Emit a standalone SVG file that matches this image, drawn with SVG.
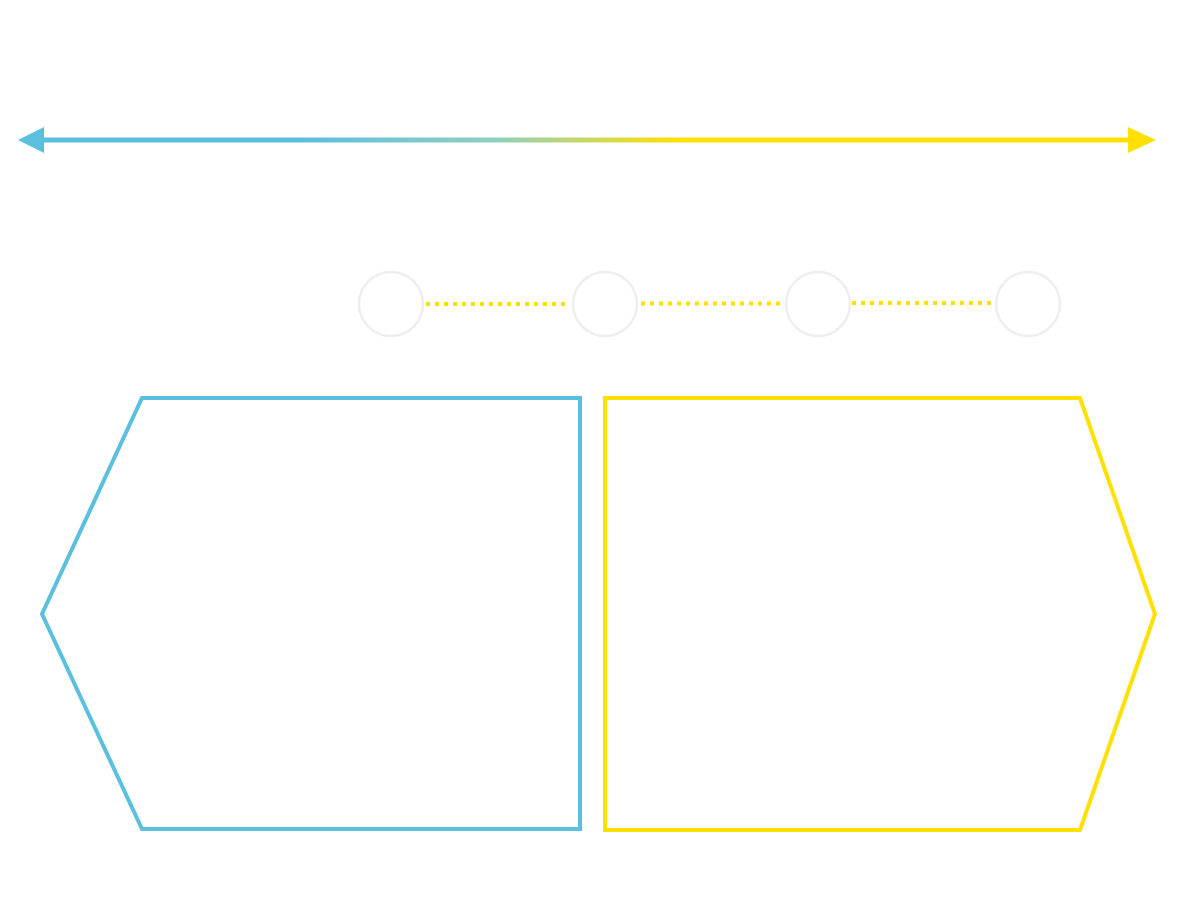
<svg xmlns="http://www.w3.org/2000/svg" width="1200" height="899" viewBox="0 0 1200 899">
<style>
.node{fill:#fff;stroke:#eeeeee;stroke-width:2.5}
.dot{stroke:#FFE000;stroke-width:4;stroke-dasharray:4 5;fill:none}
.shape{fill:none;stroke-width:4;stroke-linejoin:miter}
</style>
<defs>
<linearGradient id="g" gradientUnits="userSpaceOnUse" x1="18" y1="0" x2="1155" y2="0">
<stop offset="0.25" stop-color="#5BBFDE"/>
<stop offset="0.42" stop-color="#8FCFC0"/>
<stop offset="0.58" stop-color="#FFE000"/>
</linearGradient>
</defs>
<rect width="1200" height="899" fill="#fff"/>
<g id="connectors">
<line x1="40" y1="140" x2="1132" y2="140" stroke="url(#g)" stroke-width="5"/>
<polygon points="18,140 44,127 44,153" fill="#5BBFDE"/>
<polygon points="1156,140 1128,127 1128,153" fill="#FFE000"/>
<line class="dot" x1="426" y1="304" x2="570" y2="304"/>
<line class="dot" x1="641" y1="303.5" x2="784" y2="303.5"/>
<line class="dot" x1="852" y1="303" x2="995" y2="303"/>
</g>
<g id="step1"><circle class="node" cx="391" cy="304" r="32"/></g>
<g id="step2"><circle class="node" cx="605" cy="304" r="32"/></g>
<g id="step3"><circle class="node" cx="818" cy="304" r="32"/></g>
<g id="step4"><circle class="node" cx="1028" cy="304" r="32"/></g>
<g id="left-panel"><polygon class="shape" stroke="#5BBFDE" points="142,398 580,398 580,829 142,829 42,614"/></g>
<g id="right-panel"><polygon class="shape" stroke="#FFE000" points="605,398 1080,398 1155,614 1080,830 605,830"/></g>
</svg>
